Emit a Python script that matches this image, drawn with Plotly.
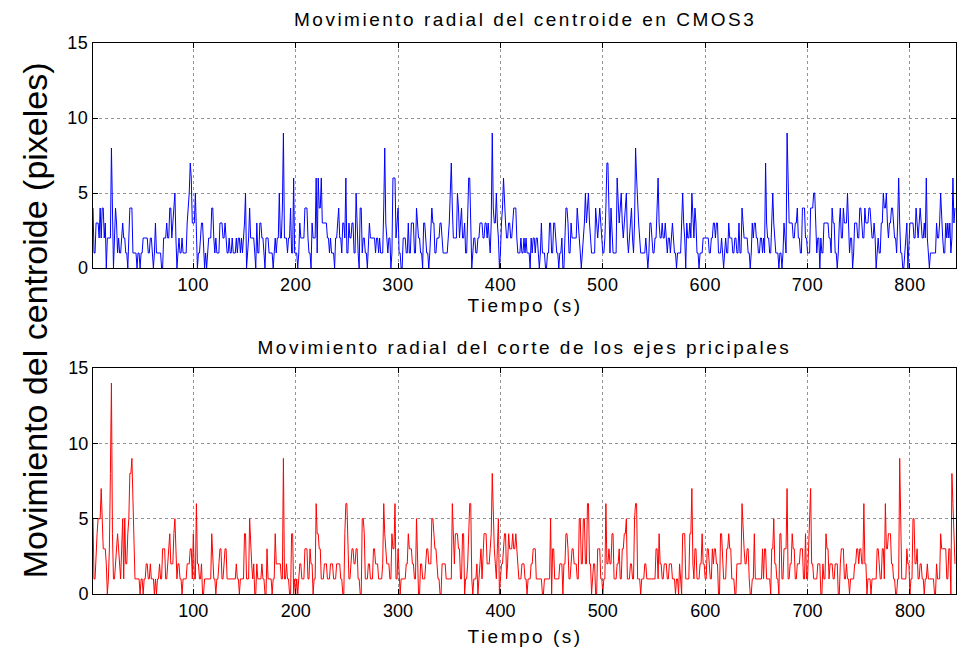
import numpy as np
import plotly.graph_objects as go
from plotly.subplots import make_subplots

# Valores (pixeles), un valor por segundo
T_START = 2
X_TICKS = [100, 200, 300, 400, 500, 600, 700, 800]
Y_TICKS = [0, 5, 10, 15]

centroide_1 = [
    4, 1, 1, 3, 3, 3, 2, 4, 2, 4, 4, 2, 3, 0, 2, 2, 2, 2, 8, 4,
    0, 2, 4, 3, 1, 2, 1, 1, 2, 3, 2, 2, 1, 1, 0, 2, 4, 4, 4, 1,
    1, 1, 1, 0, 1, 1, 0, 1, 1, 2, 2, 2, 2, 2, 1, 1, 2, 2, 1, 0,
    1, 3, 1, 1, 1, 1, 1, 0, 0, 2, 2, 2, 3, 2, 2, 4, 4, 2, 3, 4,
    5, 2, 0, 1, 2, 1, 1, 2, 1, 1, 1, 1, 3, 4, 5, 7, 6, 3, 3, 3,
    5, 2, 0, 1, 1, 2, 3, 3, 1, 0, 1, 0, 1, 2, 2, 2, 4, 4, 2, 1,
    2, 1, 1, 1, 3, 3, 3, 2, 2, 3, 2, 1, 1, 2, 1, 1, 2, 1, 1, 1,
    2, 1, 2, 2, 1, 2, 1, 2, 3, 5, 0, 1, 2, 4, 2, 2, 2, 2, 1,
    0, 3, 1, 1, 3, 3, 2, 2, 1, 0, 2, 2, 2, 1, 1, 1, 1, 0, 1, 2,
    1, 2, 2, 5, 2, 2, 4, 9, 2, 2, 2, 1, 2, 2, 4, 1, 1, 6, 1, 1,
    1, 0, 1, 3, 2, 2, 2, 2, 4, 4, 4, 2, 1, 1, 0, 3, 2, 2, 2, 6,
]
centroide_2 = [
    1, 6, 4, 4, 6, 3, 3, 3, 3, 3, 2, 2, 1, 2, 1, 1, 1, 0, 2, 2,
    3, 4, 2, 2, 1, 3, 3, 2, 6, 1, 1, 3, 2, 2, 3, 3, 1, 1, 5, 2,
    1, 0, 4, 4, 1, 2, 2, 1, 1, 0, 2, 3, 2, 2, 2, 2, 2, 1, 2, 2,
    1, 2, 1, 1, 1, 4, 8, 3, 2, 1, 2, 2, 0, 1, 6, 6, 6, 2, 3, 4,
    1, 1, 0, 0, 2, 2, 2, 1, 1, 3, 1, 1, 3, 3, 3, 1, 1, 4, 3,
    2, 2, 1, 1, 0, 3, 3, 2, 1, 1, 0, 1, 3, 4, 3, 3, 1, 1, 2, 2,
    2, 3, 3, 2, 1, 1, 1, 1, 1, 2, 3, 5, 7, 4, 2, 2, 2, 2, 5, 4,
    2, 3, 4, 2, 2, 3, 1, 1, 4, 6, 6, 2, 0, 1, 2, 2, 1, 1, 2, 2,
    3, 3, 3, 2, 2, 3, 3, 2, 3, 2, 1, 3, 9, 4, 3, 3, 5, 3, 2, 0,
    1, 3, 4, 6, 4, 3, 2, 2, 3, 3, 2, 2, 3, 4, 4, 4, 2, 1, 1, 1,
    2, 1, 1, 2, 1, 2, 1, 1, 1, 0,
]
centroide_3 = [
    2, 1, 2, 2, 1, 2, 2, 1, 0, 1, 3, 1, 1, 1, 0, 0, 1, 1, 3, 3,
    1, 1, 3, 3, 2, 1, 1, 0, 1, 1, 2, 0, 0, 2, 4, 4, 3, 1, 1, 3,
    2, 2, 2, 2, 2, 4, 3, 2, 1, 0, 1, 2, 3, 5, 3, 4, 5, 3, 2,
    1, 1, 1, 1, 4, 3, 2, 3, 4, 3, 2, 1, 1, 2, 4, 7, 7, 3, 1, 4,
    2, 1, 1, 1, 1, 6, 4, 3, 4, 5, 3, 2, 3, 4, 5, 2, 1, 2, 3, 4,
    2, 1, 3, 8, 6, 4, 3, 2, 1, 1, 1, 1, 1, 2, 1, 0, 1, 3, 3, 2,
    1, 1, 2, 2, 4, 6, 3, 2, 2, 3, 2, 2, 3, 2, 1, 2, 2, 1, 2, 3,
    2, 1, 1, 0, 1, 1, 1, 1, 3, 5, 3, 2, 0, 3, 2, 2, 3, 2, 5, 3,
    2, 4, 3, 1, 1, 0, 1, 1, 1, 2, 2, 2, 2, 2, 2, 1, 1, 2, 2, 3,
    3, 2, 3, 3, 1, 1, 1, 2, 1, 0, 1, 2, 1, 1, 3, 2, 2, 2, 1, 1,
    2, 2, 1, 1, 3, 1, 1, 4, 3, 2,
]
centroide_4 = [
    2, 2, 2, 1, 1, 0, 1, 3, 2, 3, 3, 2, 2, 1, 1, 2, 2, 1, 2,
    1, 7, 3, 2, 2, 1, 1, 3, 5, 3, 2, 1, 1, 1, 0, 1, 1, 0, 1, 3,
    2, 1, 9, 6, 3, 3, 3, 3, 2, 2, 3, 3, 4, 2, 2, 1, 1, 4, 4, 4,
    2, 2, 1, 1, 1, 4, 4, 4, 5, 5, 3, 1, 2, 2, 0, 2, 1, 1, 3, 3,
    3, 3, 3, 2, 2, 1, 4, 3, 3, 1, 1, 0, 1, 3, 4, 2, 2, 4, 3, 3,
    3, 5, 2, 1, 2, 2, 0, 1, 3, 3, 3, 2, 2, 4, 4, 3, 2, 2, 4, 3,
    3, 3, 4, 4, 3, 2, 2, 3, 2, 0, 1, 2, 1, 1, 3, 3, 5, 4, 4, 5,
    3, 2, 3, 3, 4, 4, 3, 2, 2, 1, 3, 6, 3, 1, 1, 0, 0, 1, 2, 3,
    0, 2, 3, 3, 3, 3, 2, 2, 4, 3, 2, 3, 4, 3, 2, 2, 3, 2, 6, 2,
    1, 0, 1, 1, 1, 1, 1, 1, 3, 2, 2, 3, 5, 3, 2, 1, 1, 3, 2,
    3, 2, 3, 1, 2, 6, 3, 4,
]

ejes_1 = [
    5, 1, 1, 3, 4, 5, 5, 5, 7, 5, 3, 3, 3, 2, 0, 1, 3, 8, 14, 4,
    1, 1, 2, 3, 4, 3, 2, 1, 3, 5, 1, 5, 2, 2, 4, 5, 8, 8, 9, 6,
    3, 1, 1, 1, 1, 1, 0, 1, 1, 0, 1, 1, 2, 2, 1, 1, 2, 1, 1, 1,
    0, 1, 0, 1, 1, 2, 1, 1, 3, 3, 3, 1, 1, 2, 3, 4, 2, 2, 2, 4,
    5, 3, 1, 2, 2, 1, 1, 0, 1, 1, 1, 1, 2, 2, 2, 3, 3, 1, 4, 1,
    1, 6, 2, 2, 1, 1, 2, 0, 0, 1, 1, 1, 1, 1, 1, 1, 4, 2, 1, 1,
    0, 1, 1, 2, 3, 3, 1, 1, 2, 3, 3, 1, 1, 1, 1, 1, 1, 1, 1, 1,
    2, 1, 1, 0, 1, 1, 1, 1, 4, 4, 1, 1, 1, 5, 3, 2, 1, 2, 0,
    0, 2, 1, 1, 1, 1, 2, 1, 1, 0, 0, 3, 1, 1, 1, 1, 0, 1, 1, 4,
    2, 2, 2, 2, 2, 1, 1, 9, 1, 1, 2, 1, 1, 0, 0, 4, 4, 0, 1, 0,
    1, 0, 1, 2, 2, 1, 1, 1, 3, 3, 3, 1, 1, 3, 2, 2, 0, 1, 1, 6,
]
ejes_2 = [
    4, 4, 3, 3, 1, 1, 1, 2, 2, 2, 1, 1, 1, 2, 2, 2, 1, 1, 1, 2,
    2, 2, 2, 1, 1, 0, 0, 4, 6, 6, 4, 1, 1, 2, 3, 3, 2, 2, 3, 3,
    1, 1, 0, 0, 5, 5, 4, 1, 1, 1, 2, 2, 1, 1, 1, 3, 3, 2, 2, 2,
    1, 1, 1, 1, 2, 6, 4, 3, 2, 2, 2, 1, 1, 4, 3, 3, 6, 1, 1, 3,
    1, 0, 1, 1, 1, 1, 1, 2, 2, 4, 3, 3, 3, 2, 2, 1, 1, 5, 3,
    0, 0, 2, 2, 1, 1, 1, 2, 3, 3, 2, 2, 2, 5, 5, 4, 3, 3, 2, 1,
    1, 0, 0, 2, 2, 2, 2, 1, 1, 1, 1, 1, 1, 6, 3, 2, 4, 4, 4, 3,
    3, 1, 1, 4, 4, 0, 1, 1, 2, 4, 6, 6, 1, 0, 1, 1, 1, 2, 0, 1,
    2, 3, 1, 3, 4, 4, 4, 2, 2, 2, 3, 4, 8, 5, 3, 2, 1, 3, 5, 0,
    1, 2, 2, 3, 4, 4, 1, 2, 4, 3, 3, 3, 4, 3, 3, 4, 3, 2, 1, 1,
    1, 2, 2, 2, 1, 1, 0, 1, 1, 1,
]
ejes_3 = [
    2, 2, 3, 3, 3, 1, 1, 1, 1, 1, 1, 0, 0, 1, 1, 1, 1, 1, 1, 5,
    0, 3, 3, 1, 1, 1, 1, 1, 2, 2, 2, 0, 2, 2, 4, 4, 3, 1, 1, 2,
    3, 3, 2, 2, 2, 1, 1, 5, 5, 2, 2, 5, 5, 2, 2, 6, 6, 2, 2,
    0, 1, 2, 2, 0, 0, 3, 3, 3, 1, 1, 0, 1, 1, 6, 2, 2, 3, 2, 2,
    4, 4, 1, 1, 1, 2, 2, 3, 1, 1, 3, 3, 4, 4, 5, 1, 1, 1, 2, 2,
    1, 1, 5, 6, 6, 1, 1, 1, 0, 1, 1, 1, 2, 2, 1, 1, 1, 1, 1, 1,
    1, 1, 1, 3, 3, 1, 4, 2, 2, 1, 1, 2, 2, 2, 1, 1, 2, 2, 2, 1,
    1, 1, 0, 1, 1, 0, 2, 1, 0, 4, 4, 4, 1, 1, 1, 1, 4, 4, 7, 2,
    1, 3, 3, 1, 1, 1, 2, 2, 4, 2, 2, 1, 1, 3, 3, 2, 1, 1, 3, 2,
    3, 3, 2, 2, 0, 0, 4, 4, 2, 1, 1, 1, 3, 3, 4, 3, 3, 1, 1, 1,
    0, 0, 2, 2, 2, 2, 2, 6, 4, 3,
]
ejes_4 = [
    2, 2, 3, 3, 1, 0, 0, 1, 1, 4, 1, 1, 1, 1, 1, 1, 1, 3, 1,
    3, 3, 1, 1, 1, 1, 0, 3, 3, 5, 2, 2, 1, 1, 0, 4, 4, 1, 1, 3,
    3, 3, 7, 1, 1, 2, 2, 4, 3, 3, 1, 1, 2, 2, 2, 3, 3, 3, 1, 1,
    4, 1, 1, 4, 5, 7, 2, 2, 1, 1, 1, 1, 2, 2, 2, 0, 0, 2, 1, 1,
    4, 3, 3, 1, 2, 2, 2, 1, 1, 2, 2, 2, 0, 0, 2, 3, 3, 3, 1, 1,
    2, 1, 1, 0, 1, 1, 1, 1, 2, 2, 3, 3, 2, 3, 3, 2, 2, 6, 2, 2,
    0, 1, 1, 1, 0, 1, 1, 1, 1, 1, 3, 3, 2, 1, 1, 3, 3, 1, 6, 3,
    3, 4, 4, 4, 2, 2, 1, 1, 0, 0, 1, 1, 9, 5, 1, 1, 1, 1, 1, 3,
    2, 2, 0, 1, 1, 5, 5, 2, 2, 3, 1, 1, 2, 2, 1, 1, 0, 1, 1, 2,
    1, 1, 1, 1, 1, 1, 0, 0, 2, 1, 1, 1, 4, 3, 3, 3, 3, 3, 1,
    1, 3, 3, 0, 8, 6, 4, 2,
]

centroide = centroide_1 + centroide_2 + centroide_3 + centroide_4
ejes = ejes_1 + ejes_2 + ejes_3 + ejes_4
t_centroide = T_START + np.arange(len(centroide))
t_ejes = T_START + np.arange(len(ejes))

FONT = "Liberation Sans, Arial, sans-serif"

fig = make_subplots(rows=2, cols=1, vertical_spacing=0.18)
fig.add_trace(go.Scatter(x=t_centroide, y=centroide, mode="lines",
                         line=dict(color="#0000ff", width=1)), row=1, col=1)
fig.add_trace(go.Scatter(x=t_ejes, y=ejes, mode="lines",
                         line=dict(color="#ff0000", width=1)), row=2, col=1)

axis_style = dict(
    showline=True, linecolor="black", linewidth=1, mirror="ticks",
    ticks="inside", ticklen=5, tickcolor="black", automargin=False,
    showgrid=True, gridcolor="rgba(60,60,60,0.55)", griddash="dot", gridwidth=1,
    zeroline=False, tickfont=dict(family=FONT, size=18, color="black"),
)
fig.update_xaxes(range=[2, 845], tickvals=X_TICKS, **axis_style)
fig.update_yaxes(range=[0, 15], tickvals=Y_TICKS, **axis_style)

top_bottom = (594 - 268) / 551
bottom_top = (594 - 368) / 551
fig.update_layout(
    xaxis=dict(domain=[0, 1]), xaxis2=dict(domain=[0, 1]),
    yaxis=dict(domain=[top_bottom, 1]),
    yaxis2=dict(domain=[0, bottom_top]),
)

text_font = dict(family=FONT, size=19, color="black")
notes = [
    ("Movimiento radial del centroide en CMOS3", 1.042),
    ("Tiempo (s)", 0.524),
    ("Movimiento radial del corte de los ejes pricipales", 0.448),
    ("Tiempo (s)", -0.078),
]
for text, y in notes:
    fig.add_annotation(text=text, x=0.5, y=y, xref="paper", yref="paper",
                       xanchor="center", yanchor="middle",
                       showarrow=False, font=text_font)
fig.add_annotation(text="Movimiento del centroide (pixeles)", x=-0.067, y=0.497,
                   xref="paper", yref="paper", xanchor="center", yanchor="middle",
                   textangle=-90, showarrow=False,
                   font=dict(family=FONT, size=34, color="black"))

fig.update_layout(
    width=957, height=651,
    margin=dict(l=93, r=1, t=43, b=57, autoexpand=False),
    paper_bgcolor="white", plot_bgcolor="white",
    showlegend=False,
)

# page without body margin; matlab-like wide spacing on the small texts
post = """
document.body.style.margin = '0';
var gd = document.getElementById('{plot_id}');
gd.querySelectorAll('.xtick text, .ytick text').forEach(function (t) {
    t.style.letterSpacing = '0.5px';
});
gd.querySelectorAll('.annotation-text').forEach(function (t) {
    if (t.textContent.indexOf('pixeles') < 0) { t.style.letterSpacing = '2.5px'; }
});
"""
fig.write_html("out.html", post_script=post, config={"displayModeBar": False})
